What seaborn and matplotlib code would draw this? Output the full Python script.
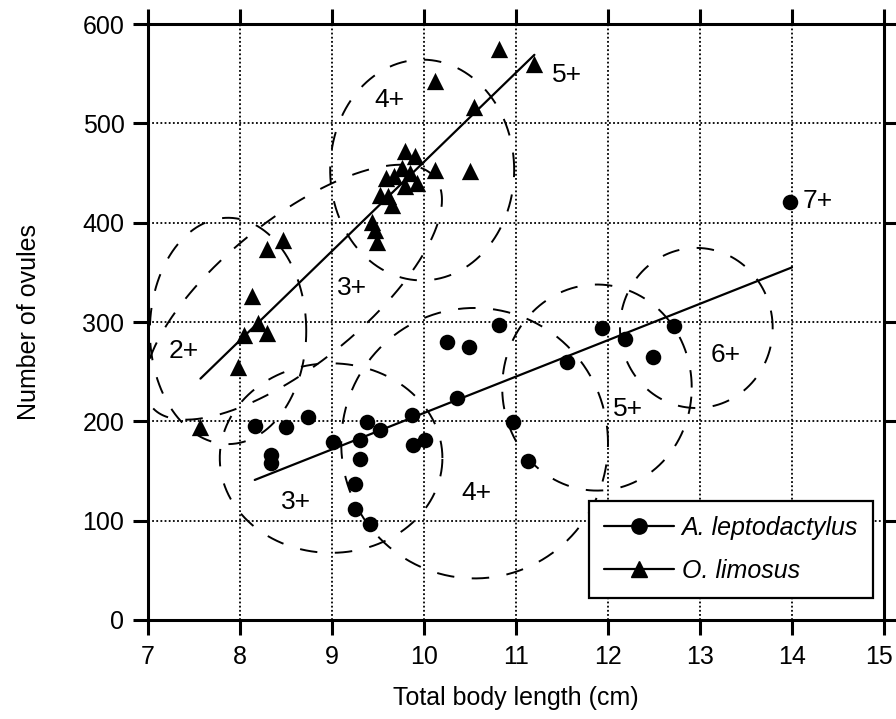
import numpy as np
import pandas as pd
import matplotlib
matplotlib.use("Agg")
import matplotlib.pyplot as plt
import matplotlib.transforms as mtransforms
import seaborn as sns
from matplotlib.lines import Line2D

# ---------------- data ----------------
lepto_length = [8.16, 8.50, 8.74, 8.34, 8.34, 9.01, 9.38, 9.52, 9.30, 9.30,
                9.25, 9.25, 9.41, 9.87, 9.88, 10.01, 10.36, 10.25, 10.49, 10.82,
                10.97, 11.13, 11.55, 11.93, 12.19, 12.49, 12.72, 13.98]
lepto_ovules = [195, 194, 204, 166, 158, 179, 199, 191, 181, 162,
                137, 112, 97, 206, 176, 181, 223, 280, 275, 297,
                199, 160, 260, 294, 283, 265, 296, 421]

limo_length = [7.56, 7.98, 8.04, 8.13, 8.20, 8.29, 8.29, 8.47, 9.43, 9.47,
               9.49, 9.52, 9.61, 9.65, 9.59, 9.67, 9.76, 9.85, 9.79, 9.92,
               9.79, 9.90, 10.12, 10.50, 10.54, 10.12, 10.81, 11.20]
limo_ovules = [194, 255, 287, 326, 299, 289, 373, 383, 401, 393,
               381, 428, 427, 418, 445, 447, 455, 450, 437, 440,
               472, 467, 453, 452, 516, 543, 575, 560]

# regression lines (end points)
lepto_fit_length = [8.16, 14.0]
lepto_fit_ovules = [141, 355]
limo_fit_length = [7.57, 11.2]
limo_fit_ovules = [243, 569]

# age-class labels
age_labels = ["2+", "3+", "4+", "5+", "3+", "4+", "5+", "6+", "7+"]
age_label_x = [7.39, 9.22, 9.62, 11.55, 8.61, 10.57, 12.22, 13.28, 14.28]
age_label_y = [271, 334, 524, 549, 119, 128, 212, 267, 422]

# age-class dashed ellipses: centre (cm, ovules), semi-axes (cm-equivalent), tilt (deg)
ell_cx = [7.87, 8.58, 9.98, 8.99, 10.55, 11.88, 12.96]
ell_cy = [291, 330, 453, 163, 178, 234, 294]
ell_a = [0.85, 1.98, 1.00, 1.21, 1.45, 1.03, 0.83]
ell_b = [1.23, 0.78, 1.20, 1.03, 1.47, 1.12, 0.87]
ell_ang = [0, 39, 0, 0, 0, 0, 0]

x_ticks = [7, 8, 9, 10, 11, 12, 13, 14, 15]
y_ticks = [0, 100, 200, 300, 400, 500, 600]

species_names = ["A. leptodactylus", "O. limosus"]

# ---------------- build frames ----------------
df_lepto = pd.DataFrame({"length": lepto_length, "ovules": lepto_ovules})
df_limo = pd.DataFrame({"length": limo_length, "ovules": limo_ovules})

sns.set_style("ticks")
plt.rcParams["font.family"] = ["Liberation Sans", "DejaVu Sans"]
plt.rcParams["font.size"] = 18
plt.rcParams["text.color"] = "black"
plt.rcParams["axes.labelcolor"] = "black"
plt.rcParams["xtick.color"] = "black"
plt.rcParams["ytick.color"] = "black"

fig = plt.figure(figsize=(8.96, 7.19), dpi=100)
ax = fig.add_axes([0.1652, 0.1377, 0.8214, 0.8289])

ax.set_xlim(7, 15)
ax.set_ylim(0, 600)
ax.set_xticks(x_ticks)
ax.set_yticks(y_ticks)

# dotted grid
ax.grid(True, color="black", linestyle=(0, (1, 1.3)), linewidth=1.3)
ax.set_axisbelow(True)

# dashed age ellipses (visual circles -> convert to data units using axis scale)
fig_w, fig_h = fig.get_size_inches() * fig.dpi
pos = ax.get_position()
px_per_cm = pos.width * fig_w / (15 - 7)
px_per_ov = pos.height * fig_h / 600.0
ov_per_cm = px_per_cm / px_per_ov
t = np.linspace(0, 2 * np.pi, 400)
for cx, cy, a, b, ang in zip(ell_cx, ell_cy, ell_a, ell_b, ell_ang):
    th = np.deg2rad(ang)
    u = a * np.cos(t)
    v = b * np.sin(t)
    dx = u * np.cos(th) - v * np.sin(th)
    dy = u * np.sin(th) + v * np.cos(th)
    ax.plot(cx + dx, cy + dy * ov_per_cm, color="black", lw=1.4,
            linestyle=(0, (9, 9)), zorder=2)

# regression lines
sns.lineplot(x=lepto_fit_length, y=lepto_fit_ovules, color="black", lw=1.6,
             estimator=None, ax=ax, zorder=3)
sns.lineplot(x=limo_fit_length, y=limo_fit_ovules, color="black", lw=1.6,
             estimator=None, ax=ax, zorder=3)

# points
sns.scatterplot(data=df_lepto, x="length", y="ovules", marker="o",
                color="black", s=125, linewidth=0, legend=False, ax=ax, zorder=4)
sns.scatterplot(data=df_limo, x="length", y="ovules", marker="^",
                color="black", s=155, linewidth=0, legend=False, ax=ax, zorder=4)

# age labels
for lab, lx, ly in zip(age_labels, age_label_x, age_label_y):
    ax.text(lx, ly, lab, ha="center", va="center", fontsize=19, color="black", zorder=5)

# axes styling
for side in ["left", "right", "top", "bottom"]:
    ax.spines[side].set_visible(True)
    ax.spines[side].set_linewidth(2.2)
    ax.spines[side].set_color("black")
ax.tick_params(axis="both", which="major", direction="out", length=11, width=2.2,
               labelsize=18, colors="black", top=True, right=True,
               labeltop=False, labelright=False)
ax.tick_params(axis="x", pad=7)
ax.tick_params(axis="y", pad=6)

# keep the last x tick label inside the figure
last_lab = ax.get_xticklabels()[-1]
last_lab.set_transform(last_lab.get_transform() +
                       mtransforms.ScaledTranslation(-5 / 100, 0, fig.dpi_scale_trans))

ax.set_xlabel("Total body length (cm)", fontsize=18, labelpad=12)
ax.set_ylabel("Number of ovules", fontsize=18, labelpad=30)

# legend
handles = [
    Line2D([0], [0], color="black", lw=1.6, marker="o", markersize=11),
    Line2D([0], [0], color="black", lw=1.6, marker="^", markersize=12),
]
leg = ax.legend(handles, species_names, loc="lower right",
                bbox_to_anchor=(0.985, 0.037), borderaxespad=0,
                frameon=True, fancybox=False, framealpha=1, edgecolor="black",
                handlelength=2.8, handletextpad=0.3, labelspacing=0.75,
                borderpad=0.6, prop={"style": "italic", "size": 18})
leg.get_frame().set_linewidth(1.6)
leg.set_zorder(10)
for txt in leg.get_texts():
    txt.set_color("black")

fig.savefig("out.png", dpi=100)
